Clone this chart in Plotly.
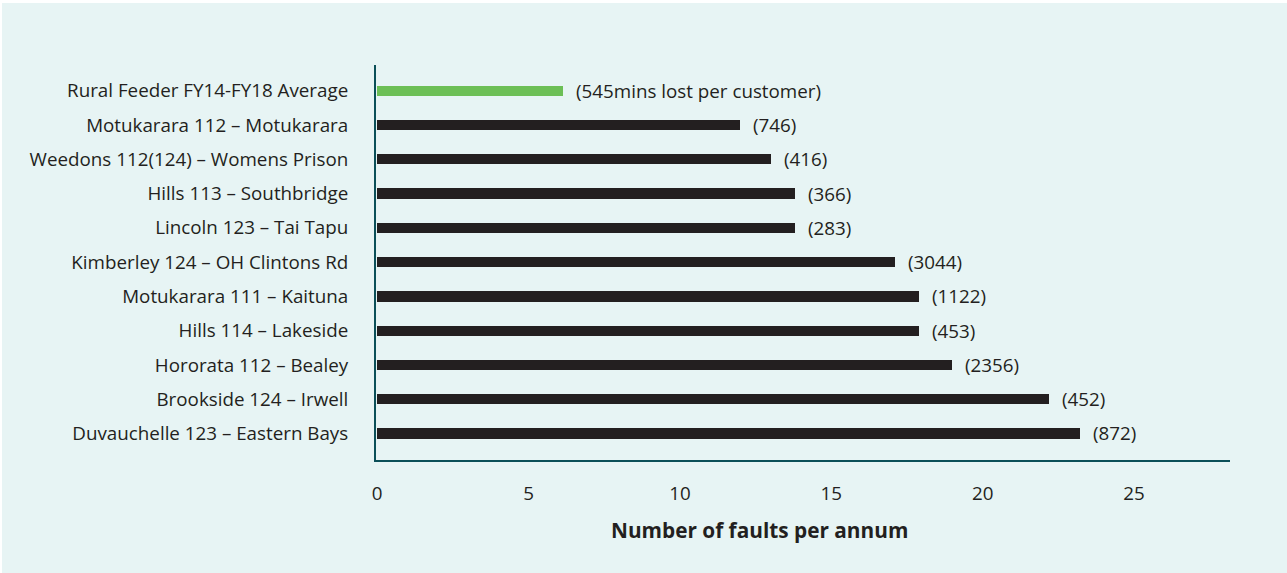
import plotly.graph_objects as go

# Feeders, bottom to top as drawn on the category axis
feeders = [
    "Duvauchelle 123 – Eastern Bays",
    "Brookside 124 – Irwell",
    "Hororata 112 – Bealey",
    "Hills 114 – Lakeside",
    "Motukarara 111 – Kaituna",
    "Kimberley 124 – OH Clintons Rd",
    "Lincoln 123 – Tai Tapu",
    "Hills 113 – Southbridge",
    "Weedons 112(124) – Womens Prison",
    "Motukarara 112 – Motukarara",
    "Rural Feeder FY14-FY18 Average",
]
faults_per_annum = [23.2, 22.2, 19.0, 17.9, 17.9, 17.1, 13.8, 13.8, 13.0, 12.0, 6.15]
mins_lost_labels = ["(872)", "(452)", "(2356)", "(453)", "(1122)", "(3044)",
                    "(283)", "(366)", "(416)", "(746)", "(545mins lost per customer)"]
x_ticks = [0, 5, 10, 15, 20, 25]

BG = "#e7f4f4"
DARK = "#231f20"
GREEN = "#6cbf56"
AXIS = "#0b4f58"
FONT = "Open Sans"
SIZE = 18.8

bar_colors = [GREEN if f.startswith("Rural") else DARK for f in feeders]

fig = go.Figure(
    go.Bar(
        x=faults_per_annum,
        y=list(range(len(feeders))),
        orientation="h",
        width=0.3,
        marker=dict(color=bar_colors, line=dict(width=0)),
        hoverinfo="skip",
    )
)

for i, (v, lab) in enumerate(zip(faults_per_annum, mins_lost_labels)):
    fig.add_annotation(
        x=v, y=i, text=lab, showarrow=False, xanchor="left", yanchor="middle",
        xshift=11, font=dict(family=FONT, size=SIZE, color=DARK),
    )

fig.add_annotation(
    xref="paper", yref="paper", x=(759 - 376) / 854, y=-(530 - 460) / 395,
    text="<b>Number of faults per annum</b>", showarrow=False,
    xanchor="center", yanchor="middle",
    font=dict(family=FONT, size=20.8, color=DARK),
)

# light panel with a thin white edge along the top and left
fig.add_shape(
    type="rect", xref="paper", yref="paper", layer="below",
    x0=(2 - 376) / 854, x1=(1290 - 376) / 854,
    y0=-(576 - 460) / 395, y1=(460 - 3) / 395,
    fillcolor=BG, line=dict(width=0),
)

fig.update_layout(
    width=1287, height=573,
    margin=dict(l=376, r=57, t=65, b=113),
    paper_bgcolor="white", plot_bgcolor=BG,
    showlegend=False, bargap=0,
    font=dict(family=FONT, size=SIZE, color=DARK),
)
fig.update_xaxes(
    range=[-0.04, 28.17], tickvals=x_ticks, ticktext=[str(t) for t in x_ticks],
    showgrid=False, zeroline=False, showline=True, linecolor=AXIS, linewidth=2,
    ticks="", ticklabelstandoff=15, tickfont=dict(family=FONT, size=SIZE, color=DARK),
)
fig.update_yaxes(
    range=[-0.774, 10.75], tickvals=list(range(len(feeders))), ticktext=feeders,
    showgrid=False, zeroline=False, showline=True, linecolor=AXIS, linewidth=2,
    ticks="", ticklabelstandoff=22, tickfont=dict(family=FONT, size=SIZE, color=DARK),
)

fig.write_html("out.html")
